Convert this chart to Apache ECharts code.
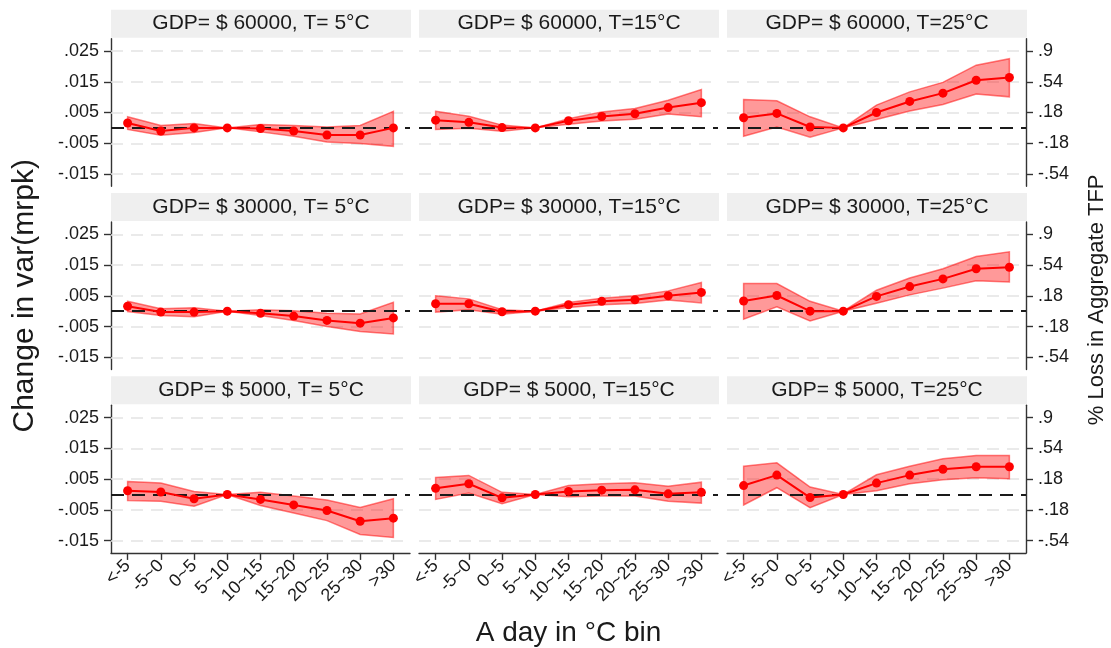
<!DOCTYPE html>
<html><head><meta charset="utf-8">
<script src="https://cdn.jsdelivr.net/npm/echarts@6/dist/echarts.min.js"></script>
<style>html,body{margin:0;padding:0;background:#fff}#c{width:1111px;height:648px}</style>
</head><body><div id="c"></div>
<script>
// ---------- data ----------
const categories = ['<-5', '-5~0', '0~5', '5~10', '10~15', '15~20', '20~25', '25~30', '>30'];
const leftTickValues = [-0.015, -0.005, 0.005, 0.015, 0.025];
const leftTickLabels = ['-.015', '-.005', '.005', '.015', '.025'];
const rightTickLabels = ['-.54', '-.18', '.18', '.54', '.9'];
const panelTitles = [
  'GDP= $ 60000, T= 5°C', 'GDP= $ 60000, T=15°C', 'GDP= $ 60000, T=25°C',
  'GDP= $ 30000, T= 5°C', 'GDP= $ 30000, T=15°C', 'GDP= $ 30000, T=25°C',
  'GDP= $ 5000, T= 5°C',  'GDP= $ 5000, T=15°C',  'GDP= $ 5000, T=25°C'
];
const xTitle = 'A day in °C bin';
const yTitleLeft = 'Change in var(mrpk)';
const yTitleRight = '% Loss in Aggregate TFP';

// GDP 60000
const est60k_5  = [0.0016, -0.0010, 0.0000, 0, -0.0002, -0.0010, -0.0023, -0.0023, 0.0000];
const lo60k_5   = [-0.0005, -0.0024, -0.0015, 0, -0.0013, -0.0027, -0.0046, -0.0051, -0.0060];
const hi60k_5   = [0.0036, 0.0008, 0.0014, 0, 0.0011, 0.0008, 0.0003, 0.0008, 0.0054];
const est60k_15 = [0.0025, 0.0018, 0.0001, 0, 0.0023, 0.0037, 0.0046, 0.0066, 0.0082];
const lo60k_15  = [-0.0005, -0.0001, -0.0011, 0, 0.0012, 0.0022, 0.0028, 0.0045, 0.0036];
const hi60k_15  = [0.0054, 0.0038, 0.0009, 0, 0.0030, 0.0052, 0.0063, 0.0090, 0.0125];
const est60k_25 = [0.0033, 0.0047, 0.0003, 0, 0.0050, 0.0086, 0.0113, 0.0155, 0.0164];
const lo60k_25  = [-0.0027, 0.0003, -0.0030, 0, 0.0027, 0.0055, 0.0076, 0.0110, 0.0101];
const hi60k_25  = [0.0092, 0.0088, 0.0036, 0, 0.0074, 0.0117, 0.0148, 0.0204, 0.0225];
// GDP 30000
const est30k_5  = [0.0016, -0.0003, -0.0003, 0, -0.0007, -0.0016, -0.0030, -0.0039, -0.0022];
const lo30k_5   = [-0.0001, -0.0014, -0.0018, 0, -0.0014, -0.0030, -0.0050, -0.0066, -0.0074];
const hi30k_5   = [0.0032, 0.0008, 0.0011, 0, 0.0005, 0.0001, -0.0007, -0.0009, 0.0029];
const est30k_15 = [0.0024, 0.0024, -0.0002, 0, 0.0021, 0.0032, 0.0037, 0.0050, 0.0061];
const lo30k_15  = [-0.0003, 0.0005, -0.0010, 0, 0.0012, 0.0021, 0.0025, 0.0036, 0.0027];
const hi30k_15  = [0.0050, 0.0040, 0.0005, 0, 0.0028, 0.0042, 0.0050, 0.0066, 0.0093];
const est30k_25 = [0.0033, 0.0051, 0.0000, 0, 0.0048, 0.0080, 0.0105, 0.0138, 0.0143];
const lo30k_25  = [-0.0026, 0.0014, -0.0032, 0, 0.0026, 0.0053, 0.0075, 0.0099, 0.0095];
const hi30k_25  = [0.0090, 0.0090, 0.0032, 0, 0.0068, 0.0108, 0.0138, 0.0178, 0.0193];
// GDP 5000
const est5k_5   = [0.0012, 0.0008, -0.0014, 0, -0.0016, -0.0034, -0.0052, -0.0087, -0.0077];
const lo5k_5    = [-0.0020, -0.0022, -0.0038, 0, -0.0036, -0.0060, -0.0085, -0.0130, -0.0140];
const hi5k_5    = [0.0042, 0.0037, 0.0010, 0, 0.0007, -0.0005, -0.0018, -0.0042, -0.0014];
const est5k_15  = [0.0020, 0.0035, -0.0011, 0, 0.0010, 0.0014, 0.0015, 0.0002, 0.0007];
const lo5k_15   = [-0.0016, 0.0005, -0.0030, 0, -0.0007, -0.0005, -0.0005, -0.0022, -0.0028];
const hi5k_15   = [0.0055, 0.0062, 0.0007, 0, 0.0029, 0.0035, 0.0038, 0.0027, 0.0040];
const est5k_25  = [0.0029, 0.0063, -0.0010, 0, 0.0037, 0.0063, 0.0082, 0.0090, 0.0090];
const lo5k_25   = [-0.0034, 0.0022, -0.0043, 0, 0.0012, 0.0035, 0.0048, 0.0054, 0.0051];
const hi5k_25   = [0.0092, 0.0103, 0.0024, 0, 0.0064, 0.0092, 0.0116, 0.0127, 0.0127];

const panels = [
  [est60k_5, lo60k_5, hi60k_5], [est60k_15, lo60k_15, hi60k_15], [est60k_25, lo60k_25, hi60k_25],
  [est30k_5, lo30k_5, hi30k_5], [est30k_15, lo30k_15, hi30k_15], [est30k_25, lo30k_25, hi30k_25],
  [est5k_5, lo5k_5, hi5k_5],    [est5k_15, lo5k_15, hi5k_15],    [est5k_25, lo5k_25, hi5k_25]
];

// ---------- layout ----------
const FONT = '"Liberation Sans", Arial, Helvetica, sans-serif';
const TXT = '#1a1a1a';
const AXC = '#333333';
const colLeft = [111, 419, 727];
const plotW = 299;
const rowTop = [38.7, 222, 405.3];
const plotH = 147.6;
const yMin = -0.019, yMax = 0.029;

function tickLabel(v, labels) {
  for (let i = 0; i < leftTickValues.length; i++) {
    if (Math.abs(leftTickValues[i] - v) < 1e-9) return labels[i];
  }
  return '';
}

const grids = [], xAxes = [], yAxes = [], series = [], graphics = [];
for (let r = 0; r < 3; r++) {
  for (let c = 0; c < 3; c++) {
    const idx = r * 3 + c;
    grids.push({ left: colLeft[c], top: rowTop[r], width: plotW, height: plotH, containLabel: false });
    const bottomRow = r === 2;
    xAxes.push({
      gridIndex: idx, type: 'category', data: categories, boundaryGap: true,
      axisLine: { show: bottomRow, onZero: false, lineStyle: { color: AXC, width: 1.4 } },
      axisTick: { show: bottomRow, alignWithLabel: true, length: 7, lineStyle: { color: AXC, width: 1.4 } },
      axisLabel: { show: bottomRow, rotate: 45, fontSize: 18, color: TXT, fontFamily: FONT, margin: 10, interval: 0 },
      splitLine: { show: false }
    });
    const showY = c !== 1;
    const labels = c === 2 ? rightTickLabels : leftTickLabels;
    yAxes.push({
      gridIndex: idx, type: 'value', min: yMin, max: yMax,
      position: c === 2 ? 'right' : 'left',
      show: showY,
      axisLine: { show: showY, lineStyle: { color: AXC, width: 1.4 } },
      axisTick: { show: showY, length: 7, customValues: leftTickValues, lineStyle: { color: AXC, width: 1.4 } },
      axisLabel: { show: showY, customValues: leftTickValues, fontSize: 18, color: TXT, fontFamily: FONT, margin: 12,
        formatter: (v) => tickLabel(v, labels) },
      splitLine: { show: false }
    });
    const [est, lo, hi] = panels[idx];
    // gridlines (behind everything)
    series.push({
      type: 'line', xAxisIndex: idx, yAxisIndex: idx, data: [], silent: true, animation: false, z: 1,
      markLine: {
        silent: true, symbol: 'none', z: 1, animation: false, precision: 6, label: { show: false },
        lineStyle: { color: '#e4e4e4', type: [12, 8], width: 1.5 },
        data: leftTickValues.map(v => ({ yAxis: v }))
      }
    });
    // confidence band
    series.push({
      type: 'custom', xAxisIndex: idx, yAxisIndex: idx, silent: true, animation: false, z: 2,
      data: categories.map((_, i) => [i, lo[i], hi[i]]),
      encode: { x: 0, y: [1, 2] },
      renderItem: function (params, api) {
        if (params.dataIndex !== 0) return null;
        const pts = [];
        for (let i = 0; i < categories.length; i++) pts.push(api.coord([i, hi[i]]));
        for (let i = categories.length - 1; i >= 0; i--) pts.push(api.coord([i, lo[i]]));
        return { type: 'polygon', shape: { points: pts },
          style: { fill: 'rgba(255,0,0,0.4)', stroke: 'rgba(255,0,0,0.5)', lineWidth: 1.5 } };
      }
    });
    // estimate line + zero reference line
    series.push({
      type: 'line', xAxisIndex: idx, yAxisIndex: idx, data: est, z: 4, animation: false,
      symbol: 'circle', symbolSize: 9, showSymbol: true,
      lineStyle: { color: '#ff0000', width: 2 }, itemStyle: { color: '#ff0000' },
      markLine: {
        silent: true, symbol: 'none', z: 3, animation: false, precision: 6, label: { show: false },
        lineStyle: { color: '#1a1a1a', type: [13, 8], width: 1.8 },
        data: [{ yAxis: 0 }]
      }
    });
    graphics.push({
      type: 'rect', shape: { x: colLeft[c], y: rowTop[r] - 29, width: plotW + 1, height: 28 },
      style: { fill: '#efefef' }, silent: true
    });
    graphics.push({
      type: 'text', x: colLeft[c] + (plotW + 1) / 2, y: rowTop[r] - 15,
      style: { text: panelTitles[idx], font: '21px ' + FONT, fill: TXT, align: 'center', verticalAlign: 'middle' },
      silent: true
    });
  }
}
const midY = (rowTop[0] + rowTop[2] + plotH) / 2;
graphics.push({
  type: 'text', x: 25, y: midY, rotation: Math.PI / 2,
  style: { text: yTitleLeft, font: '30px ' + FONT, fill: TXT, align: 'center', verticalAlign: 'middle' }
});
graphics.push({
  type: 'text', x: 1097, y: midY + 4, rotation: Math.PI / 2,
  style: { text: yTitleRight, font: '22px ' + FONT, fill: TXT, align: 'center', verticalAlign: 'middle' }
});
graphics.push({
  type: 'text', x: colLeft[0] + (colLeft[2] + plotW - colLeft[0]) / 2, y: 633,
  style: { text: xTitle, font: '28px ' + FONT, fill: TXT, align: 'center', verticalAlign: 'middle' }
});

const chart = echarts.init(document.getElementById('c'), null, { renderer: 'canvas' });
chart.setOption({
  backgroundColor: '#ffffff',
  animation: false,
  grid: grids, xAxis: xAxes, yAxis: yAxes, series: series, graphic: graphics
});
</script>
</body></html>
